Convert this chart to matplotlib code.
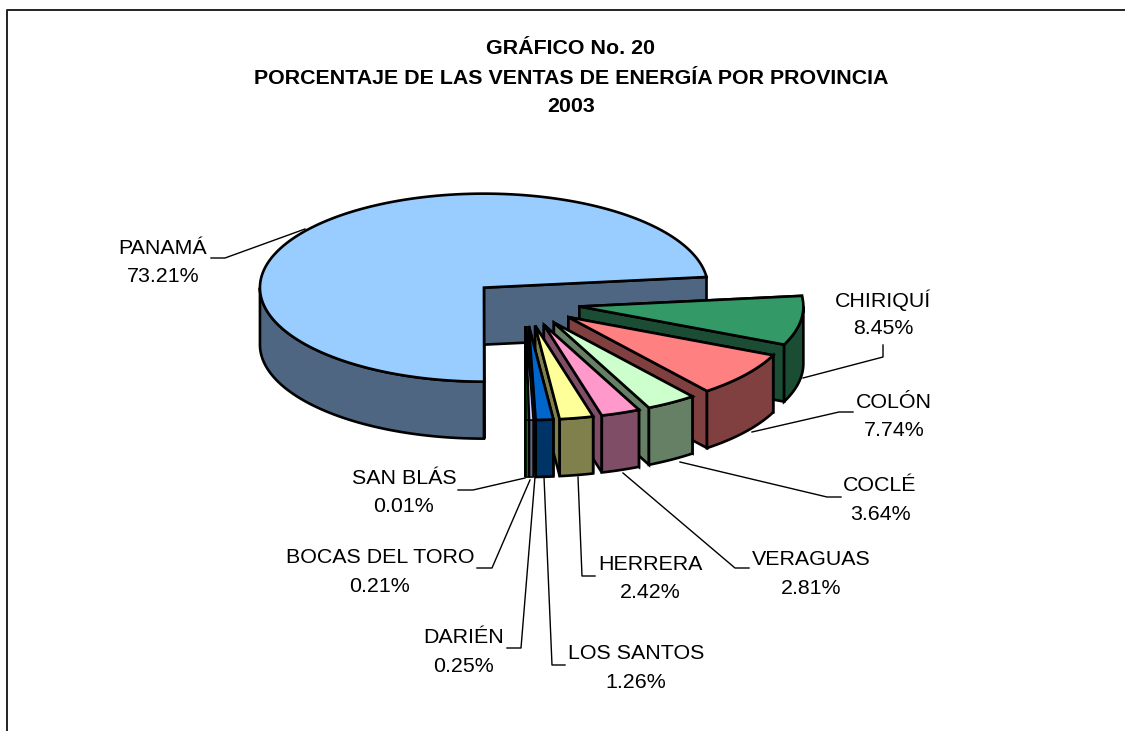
import numpy as np
import matplotlib
matplotlib.use("Agg")
import matplotlib.pyplot as plt
from matplotlib.patches import Polygon

#-------data-------
provincias = ["PANAMÁ", "CHIRIQUÍ", "COLÓN", "COCLÉ", "VERAGUAS", "HERRERA",
              "LOS SANTOS", "DARIÉN", "BOCAS DEL TORO", "SAN BLÁS"]
ventas = [73.21, 8.45, 7.74, 3.64, 2.81, 2.42, 1.26, 0.25, 0.21, 0.01]
top_colors = ["#99CCFF", "#339966", "#FF8080", "#CCFFCC", "#FF99CC", "#FFFF99",
              "#0066CC", "#CCCCFF", "#008000", "#000000"]
side_colors = ["#4F6682", "#1A4D33", "#804040", "#668066", "#804D66", "#80804D",
               "#003366", "#666680", "#008000", "#000000"]

#-------layout (pixels of the 1125x731 picture)-------
CX, CY = 525, 303     # centre of the pie before explosion
RX, RY = 224, 94
EXPLODE = 55
DEPTH = 57
START = 6.5           # ellipse angle where Panama ends / Chiriqui starts

# label centre x, y of first line, then leader polyline
layout = {
    "PANAMÁ": (163, 247, [(211, 258), (225, 258), (305, 229)]),
    "CHIRIQUÍ": (883, 298.5, [(883, 345), (883, 357), (803, 378)]),
    "COLÓN": (894, 401, [(853, 412), (839, 412), (752, 432)]),
    "COCLÉ": (880, 484, [(841, 497), (827, 497), (680, 462)]),
    "VERAGUAS": (811, 558, [(749, 568), (735, 568), (623, 473)]),
    "HERRERA": (650, 563, [(595, 576), (582, 576), (578, 477)]),
    "LOS SANTOS": (636, 652, [(565, 665), (552, 665), (544, 477)]),
    "DARIÉN": (464, 636, [(507, 648), (521, 648), (535, 477)]),
    "BOCAS DEL TORO": (380, 556, [(477, 568), (492, 568), (530, 480)]),
    "SAN BLÁS": (404, 477, [(458, 490), (473, 490), (525, 478)]),
}

plt.rcParams["font.family"] = ["Liberation Sans", "DejaVu Sans"]
W, H = 1125, 731
fig = plt.figure(figsize=(W / 100, H / 100), dpi=100)
ax = fig.add_axes([0, 0, 1, 1])
ax.set_xlim(0, W)
ax.set_ylim(H, 0)
ax.axis("off")

LW = 1.9
LW_THIN = 1.1         # very narrow slices, so their colour still shows
FS = 15.4


def arc(cx, cy, a0, a1, dy=0):
    t = np.radians(np.linspace(a0, a1, max(int(abs(a1 - a0) * 2), 2)))
    return np.column_stack([cx + RX * np.cos(t), cy + dy - RY * np.sin(t)])


def face(pts, color, z, lw):
    ax.add_patch(Polygon(pts, closed=True, facecolor=color, edgecolor="black",
                         linewidth=lw, joinstyle="miter", zorder=z))


def slice3d(a0, a1, top, side, z, lw):
    # a0 > a1, goes clockwise on screen
    mid = (a0 + a1) / 2
    cx = CX + EXPLODE * np.cos(np.radians(mid))
    cy = CY - EXPLODE * np.sin(np.radians(mid)) * RY / RX
    apex = np.array([cx, cy])
    # cut walls of both edges
    for ang in (a0, a1):
        rim = arc(cx, cy, ang, ang)[0]
        face([apex, rim, rim + [0, DEPTH], apex + [0, DEPTH]], side, z, lw)
    # outer wall, only the part on the front of the ellipse
    if a0 > 180:          # big slice, front part runs from 180 to 270
        lo, hi = 180, min(a0, 270)
    else:
        lo, hi = a1, min(a0, 0)
    if hi > lo:
        upper = arc(cx, cy, hi, lo)
        lower = arc(cx, cy, lo, hi, DEPTH)
        face(np.vstack([upper, lower]), side, z, lw)
    # top face
    face(np.vstack([[apex], arc(cx, cy, a0, a1)]), top, z, lw)


#-------slices, Panama at the back-------
angles = np.cumsum(ventas[1:]) * 3.6
edges = START - np.concatenate([[0], angles])
# Panama goes from the end of San Blas round to START, counter-clockwise
slice3d(START + ventas[0] * 3.6, START, top_colors[0], side_colors[0], 3, LW)
for i in range(1, len(ventas)):
    lw = LW_THIN if ventas[i] < 0.5 else LW
    slice3d(edges[i - 1], edges[i], top_colors[i], side_colors[i], 3 + i, lw)

#-------labels and leaders-------
for name, pct in zip(provincias, ventas):
    x, y, line = layout[name]
    ax.text(x, y + 1.5, name, ha="center", va="center", fontsize=FS, color="black")
    ax.text(x, y + 30, f"{pct:.2f}%", ha="center", va="center", fontsize=FS,
            color="black")
    xs, ys = zip(*line)
    ax.plot(xs, ys, color="black", lw=1.0, zorder=2)

#-------title-------
ax.text(571, 48.5, "GRÁFICO No. 20", ha="center", va="center",
        fontsize=FS, fontweight="bold")
ax.text(571, 78, "PORCENTAJE DE LAS VENTAS DE ENERGÍA POR PROVINCIA", ha="center",
        va="center", fontsize=FS, fontweight="bold")
ax.text(571, 106, "2003", ha="center", va="center", fontsize=FS, fontweight="bold")

#-------chart area border-------
ax.plot([7, 7, 1125], [731, 10, 10], color="#222222", lw=1.4, zorder=30)

fig.savefig("out.png", dpi=100)
